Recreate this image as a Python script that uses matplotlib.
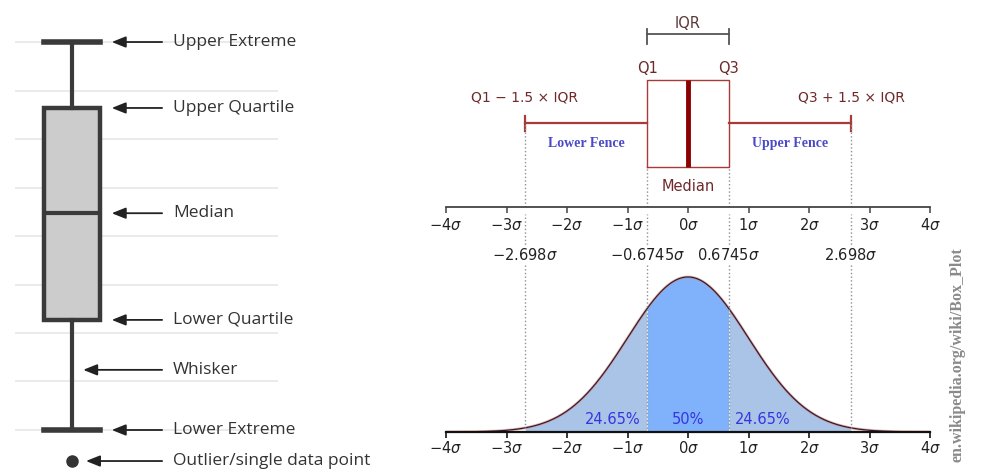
import numpy as np
import matplotlib.pyplot as plt

# left panel: labelled box plot (values in grid units)
left_stats = dict(whislo=1.0, q1=3.27, med=5.47, q3=7.64, whishi=9.0, fliers=[0.36])
left_labels = ["Upper Extreme", "Upper Quartile", "Median", "Lower Quartile",
               "Whisker", "Lower Extreme", "Outlier/single data point"]
left_label_y = [9.0, 7.64, 5.47, 3.27, 2.24, 1.0, 0.36]
left_grid = [1, 2, 3, 4, 5, 6, 7, 8, 9]

# right panel: box plot vs normal pdf, in sigma units
sigma_ticks = np.arange(-4, 5)
q1, med, q3 = -0.6745, 0.0, 0.6745
iqr = q3 - q1
lo_fence, hi_fence = -2.698, 2.698
marks = [lo_fence, q1, q3, hi_fence]
mark_labels = [r"$-2.698\sigma$", r"$-0.6745\sigma$", r"$0.6745\sigma$", r"$2.698\sigma$"]
pct_x = [-1.24, 0.0, 1.24]
pct_labels = ["24.65%", "50%", "24.65%"]

W, H = 981, 476
fig = plt.figure(figsize=(W / 100, H / 100), dpi=100)

def px_axes(x0, y0, x1, y1):
    # axes from pixel box (top-left origin)
    return fig.add_axes([x0 / W, 1 - y1 / H, (x1 - x0) / W, (y1 - y0) / H])

# ---------------- left panel ----------------
axl = px_axes(15, 20, 278, 470)
axl.set_xlim(-0.018, 4.68)
axl.set_ylim(0.175, 9.454)
for g in left_grid:
    axl.axhline(g, color="#e6e6e6", lw=1.2, zorder=0)
dark = "#3a3a3a"
axl.bxp([left_stats], positions=[1], widths=1.0, capwidths=1.0, patch_artist=True,
        showfliers=True,
        boxprops=dict(facecolor="#cccccc", edgecolor=dark, lw=3.2),
        whiskerprops=dict(color=dark, lw=3.0),
        capprops=dict(color=dark, lw=4.0),
        medianprops=dict(color=dark, lw=3.0),
        flierprops=dict(marker="o", markersize=8, markerfacecolor="#333333",
                        markeredgecolor="#333333"))
head_x = [1.71, 1.71, 1.71, 1.71, 1.2, 1.71, 1.25]
for name, y, hx in zip(left_labels, left_label_y, head_x):
    axl.annotate("", xy=(hx, y), xytext=(2.61, y),
                 arrowprops=dict(arrowstyle="-|>,head_length=0.7,head_width=0.28",
                                 color="#222222", lw=1.3, shrinkA=0, shrinkB=0,
                                 mutation_scale=12))
    axl.text(2.8, y, name, ha="left", va="center", fontsize=12.5,
             family="Open Sans", color="#333333", clip_on=False)
axl.axis("off")

# ---------------- right panel ----------------
red = "#a83a3a"
txt_red = "#6e2a2a"

# bottom: normal pdf (added first so the top axis draws over it)
axp = px_axes(446, 207, 930, 432)
axp.patch.set_alpha(0)
axp.set_xlim(-4, 4)
axp.set_ylim(0, 0.579)
x = np.linspace(-4, 4, 801)
pdf = np.exp(-x ** 2 / 2) / np.sqrt(2 * np.pi)
axp.fill_between(x, pdf, where=(x >= lo_fence) & (x <= q1), color="#aac4e8", lw=0)
axp.fill_between(x, pdf, where=(x >= q3) & (x <= hi_fence), color="#aac4e8", lw=0)
axp.fill_between(x, pdf, where=(x >= q1) & (x <= q3), color="#80b2fc", lw=0)
axp.plot(x, pdf, color="#e08080", lw=2.0, alpha=0.6)
axp.plot(x, pdf, color="#2a2030", lw=0.9)
for m in marks:
    axp.axvline(m, ymax=0.97, ls=":", color="#909090", lw=1.0)
for m, lab in zip(marks, mark_labels):
    axp.text(m, 0.4555, lab, ha="center", va="center", fontsize=10.5, color="#222222",
             bbox=dict(facecolor="white", edgecolor="none", pad=1.5))
for px_, lab in zip(pct_x, pct_labels):
    axp.text(px_, 0.033, lab, ha="center", va="center", fontsize=10.5, color="#3535e0")
for s in ["top", "left", "right"]:
    axp.spines[s].set_visible(False)
axp.spines["bottom"].set_color("#111111")
axp.spines["bottom"].set_linewidth(1.6)
axp.set_yticks([])
axp.set_xticks(sigma_ticks)
axp.set_xticklabels([rf"${v}\sigma$" for v in sigma_ticks], fontsize=10.5)
axp.tick_params(axis="x", direction="out", length=4, width=1.1, pad=2,
                labelcolor="#222222")

# top: horizontal box plot
axb = px_axes(446, 10, 930, 207)
axb.patch.set_alpha(0)
axb.set_xlim(-4, 4)
axb.set_ylim(0, 10)
axb.bxp([dict(whislo=lo_fence, q1=q1, med=med, q3=q3, whishi=hi_fence, fliers=[])],
        positions=[4.25], widths=4.42, capwidths=0.75, orientation="horizontal",
        showfliers=False,
        boxprops=dict(color=red, lw=1.0),
        whiskerprops=dict(color=red, lw=1.6),
        capprops=dict(color=red, lw=1.6),
        medianprops=dict(color="#8b0000", lw=3.5))
for m in marks:
    top = 4.25 if abs(m) > 1 else 2.03
    axb.plot([m, m], [0, top], ls=":", color="#909090", lw=1.0)
axb.plot([q1, q3], [8.78, 8.78], color="#555555", lw=1.3)
axb.plot([q1, q1], [8.27, 9.04], color="#555555", lw=1.3)
axb.plot([q3, q3], [8.27, 9.04], color="#555555", lw=1.3)
axb.text(med, 9.34, "IQR", ha="center", va="center", fontsize=10.5, color="#5a3a3a")
axb.text(q1, 7.03, "Q1", ha="center", va="center", fontsize=10.5, color=txt_red)
axb.text(q3, 7.03, "Q3", ha="center", va="center", fontsize=10.5, color=txt_red)
axb.text(lo_fence, 5.56, "Q1 \u2212 1.5 \u00d7 IQR", ha="center", va="center",
         fontsize=10, color=txt_red)
axb.text(hi_fence, 5.56, "Q3 + 1.5 \u00d7 IQR", ha="center", va="center",
         fontsize=10, color=txt_red)
axb.text((lo_fence + q1) / 2, 3.2, "Lower Fence", ha="center", va="center",
         fontsize=10, family="Liberation Serif", weight="bold", color="#4a4ac8")
axb.text((hi_fence + q3) / 2, 3.2, "Upper Fence", ha="center", va="center",
         fontsize=10, family="Liberation Serif", weight="bold", color="#4a4ac8")
axb.text(med, 1.02, "Median", ha="center", va="center", fontsize=10.5, color=txt_red)
for s in ["top", "left", "right"]:
    axb.spines[s].set_visible(False)
axb.spines["bottom"].set_color("#444444")
axb.spines["bottom"].set_linewidth(1.3)
axb.set_yticks([])
axb.set_xticks(sigma_ticks)
axb.set_xticklabels([rf"${v}\sigma$" for v in sigma_ticks], fontsize=10.5)
axb.tick_params(axis="x", direction="out", length=4, width=1.1, color="#444444",
                pad=3, labelcolor="#222222")

fig.text(958 / W, 1 - 355 / H, "en.wikipedia.org/wiki/Box_Plot", rotation=90,
         ha="center", va="center", fontsize=11.5, family="Liberation Serif",
         weight="bold", color="#8a8a8a")

fig.savefig("out.png", dpi=100)
